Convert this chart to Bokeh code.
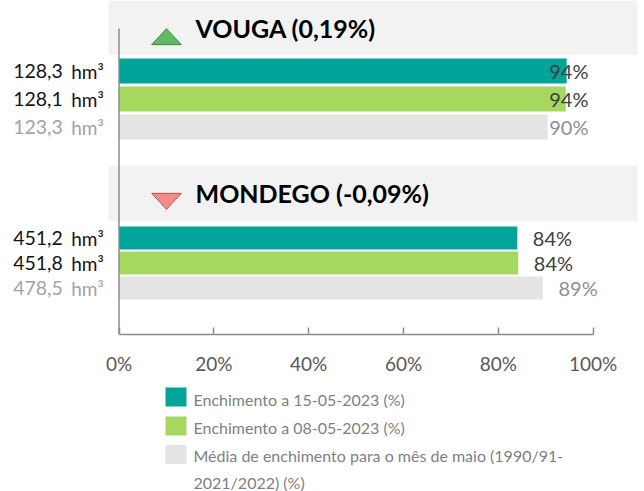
from bokeh.plotting import figure
from bokeh.models import Range1d, ColumnDataSource, FixedTicker, PrintfTickFormatter
from bokeh.layouts import column
from bokeh.embed import file_html
from bokeh.resources import INLINE
from bokeh.core.properties import value

# ---------------- data ----------------
RESERVOIRS = ["VOUGA", "MONDEGO"]
WEEKLY_CHANGE = [0.19, -0.09]          # variação semanal (p.p.)
SERIES = ["Enchimento a 15-05-2023 (%)",
          "Enchimento a 08-05-2023 (%)",
          "Média de enchimento para o mês de maio (1990/91-\n2021/2022) (%)"]
VOUGA_PCT = [94.4, 94.2, 90.4]
MONDEGO_PCT = [84.0, 84.2, 89.4]
VOUGA_HM3 = [128.3, 128.1, 123.3]
MONDEGO_HM3 = [451.2, 451.8, 478.5]
X_TICKS = [0, 20, 40, 60, 80, 100]

# ---------------- style / layout ----------------
SERIES_COLORS = ["#00a499", "#a6d75f", "#e4e4e4"]
PCT_LABEL_COLORS = ["#404040", "#404040", "#8f8f8f"]
VOL_LABEL_COLORS = ["#141414", "#141414", "#a3a3a3"]
BAND_COLOR = "#f2f2f2"
AXIS_COLOR = "#8c8c8c"
FONT = "Lato"

W = 644
H1 = 380
H2 = 111
PAGE = 0
ZERO_PX = 118.5            # page x of 0 %
PX_PER_PCT = 4.742
AXIS_TOP, AXIS_BOTTOM = 28, 334

def px_to_pct(dx):
    return dx / PX_PER_PCT

LAYOUT = [
    dict(band=(0, 54.3), first=70.5, pitch=28, bar_h=25, clamp=True, tri_dy=9),
    dict(band=(165, 220.7), first=237.5, pitch=25, bar_h=23, clamp=False, tri_dy=8),
]

x_start = px_to_pct(PAGE - ZERO_PX)
x_end = px_to_pct(PAGE + W - ZERO_PX)

p = figure(width=W, height=H1, x_range=Range1d(x_start, x_end),
           y_range=Range1d(AXIS_BOTTOM, PAGE), output_backend="svg",
           toolbar_location=None, y_axis_location=None,
           min_border_left=0, min_border_right=0, min_border_top=0,
           min_border_bottom=H1 - (AXIS_BOTTOM - PAGE))
p.outline_line_color = None
p.grid.visible = False
p.background_fill_color = "white"

for g, (name, chg, pcts, vols) in enumerate(zip(RESERVOIRS, WEEKLY_CHANGE,
                                               [VOUGA_PCT, MONDEGO_PCT],
                                               [VOUGA_HM3, MONDEGO_HM3])):
    lay = LAYOUT[g]
    b0, b1 = lay["band"]
    p.quad(left=[px_to_pct(108 - ZERO_PX)], right=[px_to_pct(637 - ZERO_PX)],
           top=[b0], bottom=[b1], fill_color=BAND_COLOR, line_color=None)
    ys = [lay["first"] + i * lay["pitch"] for i in range(len(pcts))]
    src = ColumnDataSource(dict(y=ys, v=pcts, c=SERIES_COLORS,
                                lab=[f"{round(v):.0f}%" for v in pcts],
                                lc=PCT_LABEL_COLORS,
                                num=[f"{v:.1f}".replace(".", ",") for v in vols],
                                unit=["hm³"] * len(vols),
                                vc=VOL_LABEL_COLORS))
    p.hbar(y="y", left=0, right="v", height=lay["bar_h"], fill_color="c",
           line_color=None, source=src)
    if lay["clamp"]:
        p.text(x=99.0, y="y", text="lab", text_color="lc", source=src,
               text_font=value(FONT), text_font_size="20px",
               text_align="right", text_baseline="middle")
    else:
        src.data["lx"] = [v + px_to_pct(15.5) for v in pcts]
        p.text(x="lx", y="y", text="lab", text_color="lc", source=src,
               text_font=value(FONT), text_font_size="20px",
               text_align="left", text_baseline="middle")
    p.text(x=px_to_pct(62.3 - ZERO_PX), y="y", text="num", text_color="vc", source=src,
           text_font=value(FONT), text_font_size="19.5px",
           text_align="right", text_baseline="middle")
    p.text(x=px_to_pct(70.7 - ZERO_PX), y="y", text="unit", text_color="vc", source=src,
           text_font=value(FONT), text_font_size="19px",
           text_align="left", text_baseline="middle")
    # title
    bc = (b0 + b1) / 2
    title = f"{name} ({chg:.2f}%)".replace(".", ",")
    p.text(x=[px_to_pct(195 - ZERO_PX)], y=[bc], text=[title], text_color="black",
           text_font=value(FONT), text_font_style="bold", text_font_size="25px",
           text_align="left", text_baseline="middle")
    # direction triangle
    cx = px_to_pct(166 - ZERO_PX)
    cy = bc + lay["tri_dy"]
    hw, hh = px_to_pct(14.8), 8
    if chg >= 0:
        xs, ys_t = [cx - hw, cx + hw, cx], [cy + hh, cy + hh, cy - hh]
        fc, lc = "#62b964", "#3a8d3e"
    else:
        xs, ys_t = [cx - hw, cx + hw, cx], [cy - hh, cy - hh, cy + hh]
        fc, lc = "#f08c8a", "#c0504d"
    p.patches(xs=[xs], ys=[ys_t], fill_color=fc, line_color=lc, line_width=1)

# vertical category axis line
p.segment(x0=[0], y0=[AXIS_TOP], x1=[0], y1=[AXIS_BOTTOM],
          line_color=AXIS_COLOR, line_width=1.5)

ax = p.xaxis[0]
ax.ticker = FixedTicker(ticks=X_TICKS)
ax.formatter = PrintfTickFormatter(format="%d%%")
ax.bounds = (X_TICKS[0], X_TICKS[-1])
ax.major_tick_in = 7
ax.major_tick_out = 0
ax.minor_tick_line_color = None
ax.axis_line_color = AXIS_COLOR
ax.axis_line_width = 1.5
ax.major_tick_line_color = AXIS_COLOR
ax.major_tick_line_width = 1.5
ax.major_label_text_font = FONT
ax.major_label_text_font_size = "19px"
ax.major_label_text_color = "#595959"
ax.major_label_standoff = 17

# ---------------- legend (separate strip) ----------------
top2 = PAGE + H1
p2 = figure(width=W, height=H2, x_range=Range1d(PAGE, PAGE + W),
            y_range=Range1d(top2 + H2, top2), output_backend="svg",
            toolbar_location=None, x_axis_location=None, y_axis_location=None,
            min_border=0)
p2.outline_line_color = None
p2.grid.visible = False
sq_y = [396.5, 425.5, 454.0]
tx_y = [398.5, 427.0, 468.5]
p2.rect(x=[175.5] * 3, y=sq_y, width=21, height=19, fill_color=SERIES_COLORS,
        line_color=None)
p2.text(x=[193] * 3, y=tx_y, text=SERIES, text_color="#7f7f7f",
        text_font=value(FONT), text_font_size="16px", text_line_height=1.45,
        text_align="left", text_baseline="middle")

layout = column(p, p2, spacing=0)
open("out.html", "w").write(file_html(layout, INLINE))
